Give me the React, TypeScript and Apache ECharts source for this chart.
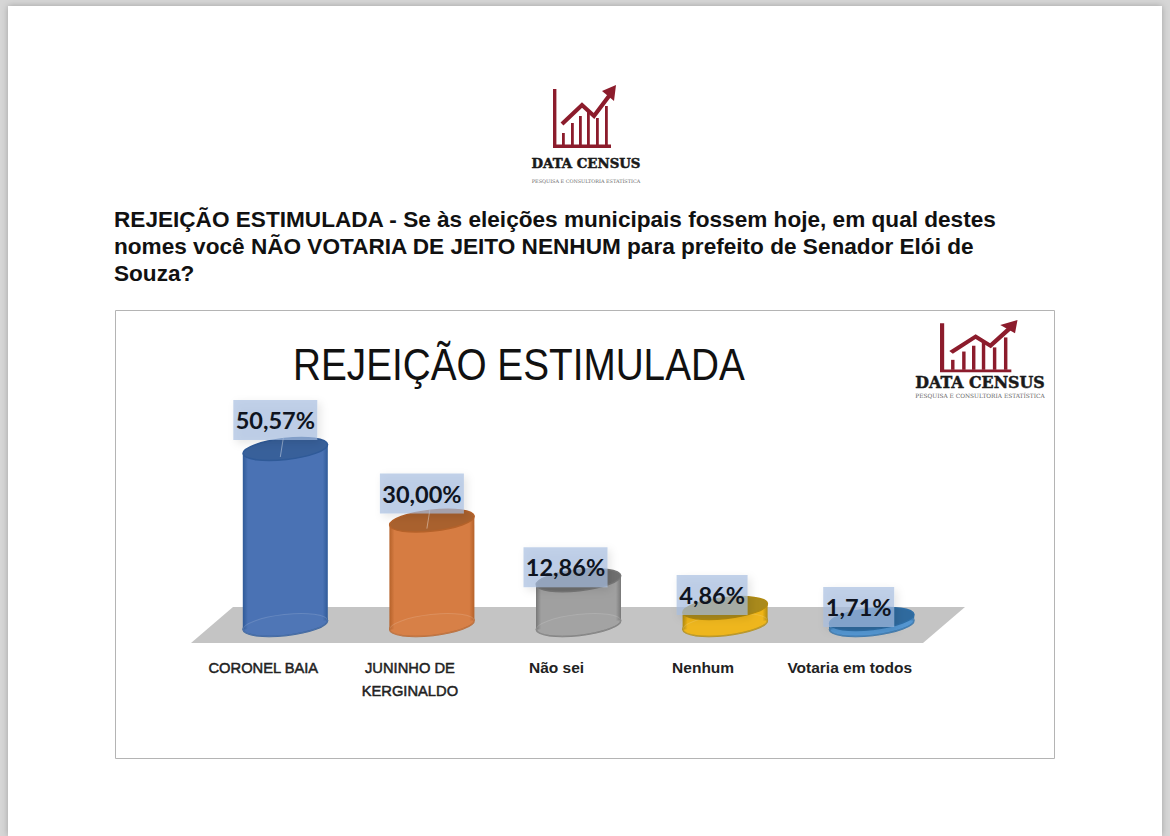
import React, { useEffect, useRef } from "react";
import * as echarts from "echarts";

const categories = ["CORONEL BAIA", "JUNINHO DE\nKERGINALDO", "Não sei", "Nenhum", "Votaria em todos"];
const values = [50.57, 30.0, 12.86, 4.86, 1.71];
const valueLabels = ["50,57%", "30,00%", "12,86%", "4,86%", "1,71%"];
const sideColors = ["#4a72b4", "#d67c42", "#a0a0a0", "#eeb416", "#4f93d0"];
const edgeColors = ["#2f5a98", "#b5622a", "#777777", "#b08a10", "#2e6ea6"];
const topColors = ["#38609a", "#a9612e", "#6f6f6f", "#a98a1c", "#2f6a9e"];
const labelDx = [-10, -10, -13, -13, -13];
const labelDy = [-29, -27, -13, -13, -12];
const labelW = [84, 84, 84, 71, 71];
const questionLines = [
  "REJEIÇÃO ESTIMULADA - Se às eleições municipais fossem hoje, em qual destes",
  "nomes você NÃO VOTARIA DE JEITO NENHUM para prefeito de Senador Elói de",
  "Souza?",
];

function logo(x: number, y: number, sx: number, sy: number, textY: number, textX: number, fs: number, subFs: number, subY: number) {
  const red = "#8c1c2c";
  const bars = [[9, 48], [18, 38], [26, 31], [34, 26], [43, 33], [52, 21]];
  return [
    {
      type: "group", x, y, scaleX: sx, scaleY: sy, silent: true,
      children: [
        { type: "polygon", shape: { points: [[0, 4], [3.4, 4], [3.4, 59.5], [58, 59.5], [58, 63], [0, 63]] }, style: { fill: red } },
        ...bars.map((b) => ({ type: "rect", shape: { x: b[0], y: b[1], width: 2.8, height: 60 - b[1] }, style: { fill: red } })),
        { type: "polyline", shape: { points: [[9, 39], [29, 20], [41, 31], [56, 11]] }, style: { stroke: red, lineWidth: 4.2, fill: "none" } },
        { type: "polygon", shape: { points: [[49, 6], [63, 0], [61, 16]] }, style: { fill: red } },
      ],
    },
    { type: "text", x: textX, y: textY, style: { text: "DATA CENSUS", fontFamily: "DejaVu Serif", fontWeight: "bold", fontSize: fs, fill: "#1a1a1a", stroke: "#1a1a1a", lineWidth: 0.5, align: "center", verticalAlign: "middle" } },
    { type: "text", x: textX, y: subY, style: { text: "PESQUISA E CONSULTORIA ESTATÍSTICA", fontFamily: "DejaVu Serif", fontSize: subFs, fill: "#666666", align: "center", verticalAlign: "middle" } },
  ];
}

export default function App() {
  const ref = useRef<HTMLDivElement>(null);
  useEffect(() => {
    const chart = echarts.init(ref.current!, null, { renderer: "svg" });
    const option: any = {
      animation: false,
      backgroundColor: "#d6d6d6",
      grid: { left: 212, top: 416.2, width: 733, height: 208.8 },
      xAxis: {
        type: "category",
        data: categories,
        axisLine: { show: false },
        axisTick: { show: false },
        axisLabel: {
          margin: 31,
          padding: [0, 44, 0, 0],
          interval: 0,
          fontFamily: "Liberation Sans",
          fontSize: 15.5,
          lineHeight: 23,
          color: "#222222",
          formatter: (v: string) =>
            v.split("\n").map((l) => (l === l.toUpperCase() ? `{u|${l}}` : `{l|${l}}`)).join("\n"),
          rich: {
            u: { fontFamily: "Liberation Sans", fontSize: 14.7, lineHeight: 23, color: "#222222", textBorderColor: "#222222", textBorderWidth: 0.5 },
            l: { fontFamily: "Liberation Sans", fontWeight: "bold", fontSize: 15.5, lineHeight: 23, color: "#222222" },
          },
        },
      },
      yAxis: { type: "value", min: 0, max: 60, show: false, splitLine: { show: false } },
      graphic: [
        { type: "rect", z: -10, shape: { x: 8, y: 6, width: 1154, height: 830 }, style: { fill: "#ffffff", shadowBlur: 6, shadowColor: "rgba(0,0,0,0.25)" } },
        { type: "rect", z: -9, shape: { x: 115.5, y: 310.5, width: 939, height: 448 }, style: { fill: "#ffffff", stroke: "#b4b4b4", lineWidth: 1 } },
        { type: "polygon", z: -8, shape: { points: [[191, 643], [233, 607], [965, 607], [923, 643]] }, style: { fill: "#c4c4c4" } },
        ...questionLines.map((t, i) => ({
          type: "text", x: 114, y: 219.5 + i * 27,
          style: { text: t, fontFamily: "Liberation Sans", fontWeight: "bold", fontSize: 22.6, fill: "#111111", verticalAlign: "middle" },
        })),
        {
          type: "text", x: 293, y: 365, scaleX: 0.88,
          style: { text: "REJEIÇÃO ESTIMULADA", fontFamily: "Liberation Sans", fontSize: 44, fill: "#111111", verticalAlign: "middle" },
        },
        ...logo(553, 85, 1, 1, 163, 586, 13.3, 4.9, 181),
        ...logo(940, 320, 1.23, 0.83, 382, 980, 15.8, 5.85, 396),
      ],
      series: [
        {
          type: "custom",
          coordinateSystem: "cartesian2d",
          data: values.map((v, i) => [i, v]),
          renderItem: (params: any, api: any) => {
            const i = params.dataIndex;
            const base = api.coord([api.value(0), 0]);
            const top = api.coord([api.value(0), api.value(1)]);
            const cx = base[0];
            const rx = 42.5;
            const ry = 10.5;
            const tilt = 0.11;
            const dy = rx * Math.sin(tilt);
            const ell = (cy: number, style: any) => ({
              type: "ellipse",
              x: cx, y: cy, rotation: tilt,
              shape: { cx: 0, cy: 0, rx, ry },
              style,
            });
            const w = labelW[i];
            const lx = cx + labelDx[i];
            const ly = top[1] + labelDy[i];
            const leader = labelDy[i] < -20
              ? [{
                  type: "line",
                  shape: { x1: cx - 2, y1: top[1] - 11, x2: cx - 5, y2: top[1] + 8 },
                  style: { stroke: "rgba(255,255,255,0.4)", lineWidth: 1 },
                }]
              : [];
            return {
              type: "group",
              children: [
                ell(base[1], { fill: sideColors[i], stroke: edgeColors[i], lineWidth: 1.5 }),
                {
                  type: "polygon",
                  shape: {
                    points: [
                      [cx - rx, top[1] + dy], [cx + rx, top[1] - dy],
                      [cx + rx, base[1] - dy], [cx - rx, base[1] + dy],
                    ],
                  },
                  style: {
                    fill: new echarts.graphic.LinearGradient(0, 0, 1, 0, [
                      { offset: 0, color: edgeColors[i] },
                      { offset: 0.06, color: sideColors[i] },
                      { offset: 0.94, color: sideColors[i] },
                      { offset: 1, color: edgeColors[i] },
                    ]),
                  },
                },
                ell(base[1], { fill: "rgba(255,255,255,0.03)", stroke: "rgba(255,255,255,0.14)", lineWidth: 1 }),
                ell(top[1], { fill: topColors[i], stroke: edgeColors[i], lineWidth: 1.5 }),
                ...leader,
                {
                  type: "rect",
                  shape: { x: lx - w / 2, y: ly - 20, width: w, height: 40 },
                  style: { fill: "rgba(166,188,224,0.68)", shadowBlur: 8, shadowColor: "rgba(0,0,0,0.15)", shadowOffsetX: 3, shadowOffsetY: 3 },
                },
                {
                  type: "text", x: lx, y: ly,
                  style: {
                    text: valueLabels[i], fontFamily: "Lato", fontWeight: "bold", fontSize: 23.5, fill: "#0f1420",
                    align: "center", verticalAlign: "middle",
                  },
                },
              ],
            };
          },
          encode: { x: 0, y: 1 },
        },
      ],
    };
    chart.setOption(option);
    return () => chart.dispose();
  }, []);
  return <div ref={ref} style={{ position: "fixed", left: 0, top: 0, width: 1170, height: 836 }} />;
}
